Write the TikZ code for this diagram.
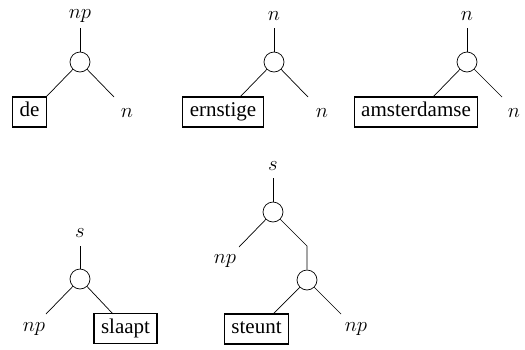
\documentclass[tikz,border=0pt]{standalone}
\usepackage{fontspec}
\setmainfont{Liberation Serif}
\begin{document}
\begin{tikzpicture}[x=1pt,y=-1pt,
  hub/.style={circle, draw, minimum size=20pt, inner sep=0pt, line width=0.7pt},
  word/.style={draw, line width=1.3pt, inner xsep=7pt, inner ysep=0pt, minimum height=30pt, text height=14pt, text depth=4.5pt, font=\fontsize{21}{25}\selectfont},
  cat/.style={anchor=base, inner sep=0pt, font=\fontsize{21}{25}\selectfont},
  edge/.style={line width=0.7pt}]
\useasboundingbox (0,0) rectangle (525,349);
% tree 1
\node[cat] (t1) at (80,18) {$np$};
\coordinate (t1b) at (80,28);
\node[hub] (h1) at (80,62) {};
\node[word] (w1) at (29.5,112) {de};
\coordinate (l1) at (46,97);
\coordinate (r1e) at (114,97);
\node[cat] (r1) at (127,117) {$n$};
\draw[edge] (t1b) -- (h1);
\draw[edge] (h1) -- (l1);
\draw[edge] (h1) -- (r1e);
% tree 2
\node[cat] (t2) at (274,20) {$n$};
\coordinate (t2b) at (274,28);
\node[hub] (h2) at (274,62) {};
\node[word] (w2) at (223,112) {ernstige};
\coordinate (l2) at (240,97);
\coordinate (r2e) at (308,97);
\node[cat] (r2) at (322,117) {$n$};
\draw[edge] (t2b) -- (h2);
\draw[edge] (h2) -- (l2);
\draw[edge] (h2) -- (r2e);
% tree 3
\node[cat] (t3) at (467,20) {$n$};
\coordinate (t3b) at (467,28);
\node[hub] (h3) at (467,62) {};
\node[word] (w3) at (416,112) {amsterdamse};
\coordinate (l3) at (433,97);
\coordinate (r3e) at (502,97);
\node[cat] (r3) at (514,117) {$n$};
\draw[edge] (t3b) -- (h3);
\draw[edge] (h3) -- (l3);
\draw[edge] (h3) -- (r3e);
% tree 4
\node[cat] (t4) at (80,237) {$s$};
\coordinate (t4b) at (80,246);
\node[hub] (h4) at (80,279) {};
\coordinate (l4) at (46,314);
\node[cat] (lab4) at (34,331) {$np$};
\node[word] (w4) at (125.5,328.5) {slaapt};
\coordinate (r4e) at (113,314);
\draw[edge] (t4b) -- (h4);
\draw[edge] (h4) -- (l4);
\draw[edge] (h4) -- (r4e);
% tree 5
\node[cat] (t5) at (273,170) {$s$};
\coordinate (t5b) at (273,178);
\node[hub] (h5) at (273,212) {};
\coordinate (l5) at (239,247);
\node[cat] (lab5) at (225,263) {$np$};
\coordinate (k5) at (307,246);
\node[hub] (h6) at (307,280) {};
\node[word] (w6) at (256.5,329) {steunt};
\coordinate (l6) at (273,314);
\coordinate (r6e) at (341,314);
\node[cat] (lab6) at (356,331) {$np$};
\draw[edge] (t5b) -- (h5);
\draw[edge] (h5) -- (l5);
\draw[edge] (h5) -- (k5) -- (h6);
\draw[edge] (h6) -- (l6);
\draw[edge] (h6) -- (r6e);
\end{tikzpicture}
\end{document}
